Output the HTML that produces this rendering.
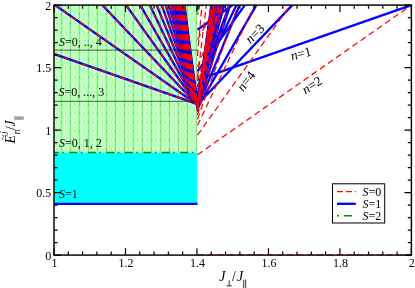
<!DOCTYPE html><html><head><meta charset="utf-8"><style>html,body{margin:0;padding:0;background:#fff}</style></head><body><svg width="415" height="288" viewBox="0 0 415 288" style="display:block;will-change:transform">
<defs>
<pattern id="gp" x="2.9" y="0.7" width="9" height="9" patternUnits="userSpaceOnUse"><rect width="9" height="9" fill="#bfffbf"/><line x1="4.5" y1="0" x2="4.5" y2="9" stroke="#74f274" stroke-width="1.1"/><line x1="0" y1="4.5" x2="9" y2="4.5" stroke="#86f486" stroke-width="1"/><line x1="0" y1="4.5" x2="9" y2="4.5" stroke="#ffffff" stroke-width="1.1" stroke-dasharray="2.4 2.1" stroke-dashoffset="-1"/><rect x="3.9" y="3.9" width="1.2" height="1.2" fill="#20e020"/></pattern>
<clipPath id="cp"><rect x="54.0" y="5.1" width="357.4" height="250.0"/></clipPath>
</defs>
<rect width="415" height="288" fill="#fff"/>
<rect x="54.0" y="5.1" width="143.50" height="147.50" fill="url(#gp)"/>
<rect x="54.0" y="152.60" width="143.50" height="51.25" fill="#00ffff"/>
<g clip-path="url(#cp)" fill="none">
<line x1="54.00" y1="53.91" x2="197.50" y2="104.10" stroke="#0000ff" stroke-width="2.3"/>
<line x1="55.07" y1="5.10" x2="197.50" y2="104.73" stroke="#0000ff" stroke-width="2.3"/>
<line x1="102.35" y1="5.10" x2="197.50" y2="104.93" stroke="#0000ff" stroke-width="2.3"/>
<line x1="126.06" y1="5.10" x2="197.50" y2="105.04" stroke="#0000ff" stroke-width="2.3"/>
<line x1="140.31" y1="5.10" x2="197.50" y2="105.10" stroke="#0000ff" stroke-width="2.3"/>
<line x1="149.82" y1="5.10" x2="197.50" y2="105.14" stroke="#0000ff" stroke-width="2.3"/>
<line x1="156.62" y1="5.10" x2="197.50" y2="105.17" stroke="#0000ff" stroke-width="2.3"/>
<line x1="161.72" y1="5.10" x2="197.50" y2="105.19" stroke="#0000ff" stroke-width="2.3"/>
<line x1="165.69" y1="5.10" x2="197.50" y2="105.21" stroke="#0000ff" stroke-width="2.3"/>
<line x1="168.87" y1="5.10" x2="197.50" y2="105.23" stroke="#0000ff" stroke-width="2.3"/>
<line x1="171.47" y1="5.10" x2="197.50" y2="105.24" stroke="#0000ff" stroke-width="2.3"/>
<line x1="173.63" y1="5.10" x2="197.50" y2="105.25" stroke="#0000ff" stroke-width="2.3"/>
<line x1="175.47" y1="5.10" x2="197.50" y2="105.25" stroke="#0000ff" stroke-width="2.3"/>
<line x1="177.04" y1="5.10" x2="197.50" y2="105.26" stroke="#0000ff" stroke-width="2.3"/>
<line x1="178.40" y1="5.10" x2="197.50" y2="105.27" stroke="#0000ff" stroke-width="2.3"/>
<line x1="179.60" y1="5.10" x2="197.50" y2="105.27" stroke="#0000ff" stroke-width="2.3"/>
<line x1="180.65" y1="5.10" x2="197.50" y2="105.28" stroke="#0000ff" stroke-width="2.3"/>
<line x1="181.58" y1="5.10" x2="197.50" y2="105.28" stroke="#0000ff" stroke-width="2.3"/>
<line x1="182.42" y1="5.10" x2="197.50" y2="105.28" stroke="#0000ff" stroke-width="2.3"/>
<line x1="183.17" y1="5.10" x2="197.50" y2="105.29" stroke="#0000ff" stroke-width="2.3"/>
<line x1="183.85" y1="5.10" x2="197.50" y2="105.29" stroke="#0000ff" stroke-width="2.3"/>
<line x1="184.47" y1="5.10" x2="197.50" y2="105.29" stroke="#0000ff" stroke-width="2.3"/>
<line x1="197.50" y1="79.91" x2="411.40" y2="5.10" stroke="#0000ff" stroke-width="2.3"/>
<line x1="197.50" y1="29.73" x2="232.70" y2="5.10" stroke="#0000ff" stroke-width="2.3"/>
<line x1="197.50" y1="104.54" x2="292.27" y2="5.10" stroke="#0000ff" stroke-width="2.3"/>
<line x1="197.50" y1="71.42" x2="244.90" y2="5.10" stroke="#0000ff" stroke-width="2.3"/>
<line x1="197.50" y1="107.94" x2="256.30" y2="5.10" stroke="#0000ff" stroke-width="2.3"/>
<line x1="197.50" y1="86.79" x2="236.42" y2="5.10" stroke="#0000ff" stroke-width="2.3"/>
<line x1="197.50" y1="108.10" x2="239.57" y2="5.10" stroke="#0000ff" stroke-width="2.3"/>
<line x1="197.50" y1="93.94" x2="229.25" y2="5.10" stroke="#0000ff" stroke-width="2.3"/>
<line x1="197.50" y1="107.53" x2="230.04" y2="5.10" stroke="#0000ff" stroke-width="2.3"/>
<line x1="197.50" y1="97.75" x2="223.99" y2="5.10" stroke="#0000ff" stroke-width="2.3"/>
<line x1="197.50" y1="106.83" x2="223.94" y2="5.10" stroke="#0000ff" stroke-width="2.3"/>
<line x1="197.50" y1="99.96" x2="220.10" y2="5.10" stroke="#0000ff" stroke-width="2.3"/>
<line x1="197.50" y1="111.05" x2="220.80" y2="5.10" stroke="#0000ff" stroke-width="2.3"/>
<line x1="197.50" y1="101.65" x2="217.21" y2="5.10" stroke="#0000ff" stroke-width="2.3"/>
<line x1="197.50" y1="109.56" x2="217.41" y2="5.10" stroke="#0000ff" stroke-width="2.3"/>
<line x1="197.50" y1="102.90" x2="214.97" y2="5.10" stroke="#0000ff" stroke-width="2.3"/>
<line x1="197.50" y1="108.50" x2="214.89" y2="5.10" stroke="#0000ff" stroke-width="2.3"/>
<line x1="197.50" y1="103.78" x2="213.17" y2="5.10" stroke="#0000ff" stroke-width="2.3"/>
<line x1="197.50" y1="107.75" x2="212.94" y2="5.10" stroke="#0000ff" stroke-width="2.3"/>
<line x1="197.50" y1="104.41" x2="211.69" y2="5.10" stroke="#0000ff" stroke-width="2.3"/>
<line x1="197.50" y1="107.22" x2="211.40" y2="5.10" stroke="#0000ff" stroke-width="2.3"/>
<line x1="197.50" y1="9.50" x2="198.70" y2="5.10" stroke="#0000ff" stroke-width="2.3"/>
<line x1="54.00" y1="203.85" x2="197.50" y2="203.85" stroke="#0000ff" stroke-width="2.3"/>
<line x1="54.00" y1="53.91" x2="197.50" y2="104.10" stroke="#ff0000" stroke-width="1.25" stroke-dasharray="6.2 3.75"/>
<line x1="55.07" y1="5.10" x2="197.50" y2="104.73" stroke="#ff0000" stroke-width="1.25" stroke-dasharray="6.2 3.75"/>
<line x1="102.35" y1="5.10" x2="197.50" y2="104.93" stroke="#ff0000" stroke-width="1.25" stroke-dasharray="6.2 3.75"/>
<line x1="126.06" y1="5.10" x2="197.50" y2="105.04" stroke="#ff0000" stroke-width="1.25" stroke-dasharray="6.2 3.75"/>
<line x1="140.31" y1="5.10" x2="197.50" y2="105.10" stroke="#ff0000" stroke-width="1.25" stroke-dasharray="6.2 3.75"/>
<line x1="149.82" y1="5.10" x2="197.50" y2="105.14" stroke="#ff0000" stroke-width="1.25" stroke-dasharray="6.2 3.75"/>
<line x1="156.62" y1="5.10" x2="197.50" y2="105.17" stroke="#ff0000" stroke-width="1.25" stroke-dasharray="6.2 3.75"/>
<line x1="161.72" y1="5.10" x2="197.50" y2="105.19" stroke="#ff0000" stroke-width="1.25" stroke-dasharray="6.2 3.75"/>
<line x1="165.69" y1="5.10" x2="197.50" y2="105.21" stroke="#ff0000" stroke-width="1.25" stroke-dasharray="6.2 3.75"/>
<line x1="168.87" y1="5.10" x2="197.50" y2="105.23" stroke="#ff0000" stroke-width="1.25" stroke-dasharray="6.2 3.75"/>
<line x1="171.47" y1="5.10" x2="197.50" y2="105.24" stroke="#ff0000" stroke-width="1.25" stroke-dasharray="6.2 3.75"/>
<line x1="173.63" y1="5.10" x2="197.50" y2="105.25" stroke="#ff0000" stroke-width="1.25" stroke-dasharray="6.2 3.75"/>
<line x1="175.47" y1="5.10" x2="197.50" y2="105.25" stroke="#ff0000" stroke-width="1.25" stroke-dasharray="6.2 3.75"/>
<line x1="177.04" y1="5.10" x2="197.50" y2="105.26" stroke="#ff0000" stroke-width="1.25" stroke-dasharray="6.2 3.75"/>
<line x1="178.40" y1="5.10" x2="197.50" y2="105.27" stroke="#ff0000" stroke-width="1.25" stroke-dasharray="6.2 3.75"/>
<line x1="179.60" y1="5.10" x2="197.50" y2="105.27" stroke="#ff0000" stroke-width="1.25" stroke-dasharray="6.2 3.75"/>
<line x1="180.65" y1="5.10" x2="197.50" y2="105.28" stroke="#ff0000" stroke-width="1.25" stroke-dasharray="6.2 3.75"/>
<line x1="181.58" y1="5.10" x2="197.50" y2="105.28" stroke="#ff0000" stroke-width="1.25" stroke-dasharray="6.2 3.75"/>
<line x1="182.42" y1="5.10" x2="197.50" y2="105.28" stroke="#ff0000" stroke-width="1.25" stroke-dasharray="6.2 3.75"/>
<line x1="183.17" y1="5.10" x2="197.50" y2="105.29" stroke="#ff0000" stroke-width="1.25" stroke-dasharray="6.2 3.75"/>
<line x1="183.85" y1="5.10" x2="197.50" y2="105.29" stroke="#ff0000" stroke-width="1.25" stroke-dasharray="6.2 3.75"/>
<line x1="184.47" y1="5.10" x2="197.50" y2="105.29" stroke="#ff0000" stroke-width="1.25" stroke-dasharray="6.2 3.75"/>
<line x1="197.50" y1="154.72" x2="411.40" y2="5.10" stroke="#ff0000" stroke-width="1.25" stroke-dasharray="6.2 3.75"/>
<line x1="197.50" y1="135.07" x2="290.40" y2="5.10" stroke="#ff0000" stroke-width="1.25" stroke-dasharray="6.2 3.75"/>
<line x1="197.50" y1="39.61" x2="217.23" y2="5.10" stroke="#ff0000" stroke-width="1.25" stroke-dasharray="6.2 3.75"/>
<line x1="197.50" y1="125.26" x2="254.76" y2="5.10" stroke="#ff0000" stroke-width="1.25" stroke-dasharray="6.2 3.75"/>
<line x1="197.50" y1="66.73" x2="222.67" y2="5.10" stroke="#ff0000" stroke-width="1.25" stroke-dasharray="6.2 3.75"/>
<line x1="197.50" y1="119.18" x2="238.27" y2="5.10" stroke="#ff0000" stroke-width="1.25" stroke-dasharray="6.2 3.75"/>
<line x1="197.50" y1="80.94" x2="221.59" y2="5.10" stroke="#ff0000" stroke-width="1.25" stroke-dasharray="6.2 3.75"/>
<line x1="197.50" y1="115.05" x2="228.93" y2="5.10" stroke="#ff0000" stroke-width="1.25" stroke-dasharray="6.2 3.75"/>
<line x1="197.50" y1="89.11" x2="219.33" y2="5.10" stroke="#ff0000" stroke-width="1.25" stroke-dasharray="6.2 3.75"/>
<line x1="197.50" y1="112.10" x2="222.99" y2="5.10" stroke="#ff0000" stroke-width="1.25" stroke-dasharray="6.2 3.75"/>
<line x1="197.50" y1="100.85" x2="218.55" y2="5.10" stroke="#ff0000" stroke-width="1.25" stroke-dasharray="6.2 3.75"/>
<line x1="197.50" y1="110.24" x2="218.97" y2="5.10" stroke="#ff0000" stroke-width="1.25" stroke-dasharray="6.2 3.75"/>
<line x1="197.50" y1="102.33" x2="216.03" y2="5.10" stroke="#ff0000" stroke-width="1.25" stroke-dasharray="6.2 3.75"/>
<line x1="197.50" y1="108.98" x2="216.06" y2="5.10" stroke="#ff0000" stroke-width="1.25" stroke-dasharray="6.2 3.75"/>
<line x1="197.50" y1="103.38" x2="214.03" y2="5.10" stroke="#ff0000" stroke-width="1.25" stroke-dasharray="6.2 3.75"/>
<line x1="197.50" y1="108.09" x2="213.86" y2="5.10" stroke="#ff0000" stroke-width="1.25" stroke-dasharray="6.2 3.75"/>
<line x1="197.50" y1="104.12" x2="212.40" y2="5.10" stroke="#ff0000" stroke-width="1.25" stroke-dasharray="6.2 3.75"/>
<line x1="197.50" y1="107.46" x2="212.13" y2="5.10" stroke="#ff0000" stroke-width="1.25" stroke-dasharray="6.2 3.75"/>
<line x1="197.50" y1="104.65" x2="211.05" y2="5.10" stroke="#ff0000" stroke-width="1.25" stroke-dasharray="6.2 3.75"/>
<line x1="197.50" y1="56.00" x2="201.90" y2="5.10" stroke="#ff0000" stroke-width="1.25" stroke-dasharray="6.2 3.75"/>
<line x1="197.50" y1="77.70" x2="206.40" y2="5.10" stroke="#ff0000" stroke-width="1.25" stroke-dasharray="6.2 3.75"/>
<line x1="197.50" y1="254.85" x2="411.40" y2="254.85" stroke="#ff0000" stroke-width="1.25" stroke-dasharray="6.2 3.75"/>
<line x1="197.60" y1="14.50" x2="199.60" y2="5.10" stroke="#008b00" stroke-width="1.5" stroke-dasharray="2 2.5 8 4.5"/>
<line x1="54.0" y1="101.35" x2="197.50" y2="101.35" stroke="#1a1a1a" stroke-width="0.7"/>
<line x1="54.0" y1="50.10" x2="197.50" y2="50.10" stroke="#1a1a1a" stroke-width="0.7"/>
<line x1="54.0" y1="152.40" x2="197.50" y2="152.40" stroke="#008b00" stroke-width="1.5" stroke-dasharray="8 3.5 1.5 5.5" stroke-dashoffset="3.2"/>
</g>
<rect x="54.0" y="5.1" width="357.4" height="250.0" fill="none" stroke="#000" stroke-width="1.45"/>
<path d="M54.00 255.1v-6.9M54.00 5.1v6.9M68.30 255.1v-3.6M68.30 5.1v3.6M82.59 255.1v-3.6M82.59 5.1v3.6M96.89 255.1v-3.6M96.89 5.1v3.6M111.18 255.1v-3.6M111.18 5.1v3.6M125.48 255.1v-6.9M125.48 5.1v6.9M139.78 255.1v-3.6M139.78 5.1v3.6M154.07 255.1v-3.6M154.07 5.1v3.6M168.37 255.1v-3.6M168.37 5.1v3.6M182.66 255.1v-3.6M182.66 5.1v3.6M196.96 255.1v-6.9M196.96 5.1v6.9M211.26 255.1v-3.6M211.26 5.1v3.6M225.55 255.1v-3.6M225.55 5.1v3.6M239.85 255.1v-3.6M239.85 5.1v3.6M254.14 255.1v-3.6M254.14 5.1v3.6M268.44 255.1v-6.9M268.44 5.1v6.9M282.74 255.1v-3.6M282.74 5.1v3.6M297.03 255.1v-3.6M297.03 5.1v3.6M311.33 255.1v-3.6M311.33 5.1v3.6M325.62 255.1v-3.6M325.62 5.1v3.6M339.92 255.1v-6.9M339.92 5.1v6.9M354.22 255.1v-3.6M354.22 5.1v3.6M368.51 255.1v-3.6M368.51 5.1v3.6M382.81 255.1v-3.6M382.81 5.1v3.6M397.10 255.1v-3.6M397.10 5.1v3.6M411.40 255.1v-6.9M411.40 5.1v6.9M54.0 255.10h6.9M411.4 255.10h-6.9M54.0 242.60h3.6M411.4 242.60h-3.6M54.0 230.10h3.6M411.4 230.10h-3.6M54.0 217.60h3.6M411.4 217.60h-3.6M54.0 205.10h3.6M411.4 205.10h-3.6M54.0 192.60h6.9M411.4 192.60h-6.9M54.0 180.10h3.6M411.4 180.10h-3.6M54.0 167.60h3.6M411.4 167.60h-3.6M54.0 155.10h3.6M411.4 155.10h-3.6M54.0 142.60h3.6M411.4 142.60h-3.6M54.0 130.10h6.9M411.4 130.10h-6.9M54.0 117.60h3.6M411.4 117.60h-3.6M54.0 105.10h3.6M411.4 105.10h-3.6M54.0 92.60h3.6M411.4 92.60h-3.6M54.0 80.10h3.6M411.4 80.10h-3.6M54.0 67.60h6.9M411.4 67.60h-6.9M54.0 55.10h3.6M411.4 55.10h-3.6M54.0 42.60h3.6M411.4 42.60h-3.6M54.0 30.10h3.6M411.4 30.10h-3.6M54.0 17.60h3.6M411.4 17.60h-3.6M54.0 5.10h6.9M411.4 5.10h-6.9" stroke="#000" stroke-width="1.2" fill="none"/>
<g font-family="Liberation Serif, serif" font-size="12px" fill="#000">
<text x="54.6" y="266.8" text-anchor="middle">1</text>
<text x="126.1" y="266.8" text-anchor="middle">1.2</text>
<text x="197.6" y="266.8" text-anchor="middle">1.4</text>
<text x="269.0" y="266.8" text-anchor="middle">1.6</text>
<text x="340.5" y="266.8" text-anchor="middle">1.8</text>
<text x="411.7" y="266.8" text-anchor="middle">2</text>
<text x="51.2" y="259.6" text-anchor="end">0</text>
<text x="51.2" y="197.1" text-anchor="end">0.5</text>
<text x="51.2" y="134.6" text-anchor="end">1</text>
<text x="51.2" y="72.1" text-anchor="end">1.5</text>
<text x="51.2" y="9.6" text-anchor="end">2</text>
<text x="59" y="45.6"><tspan font-style="italic">S</tspan>=0, .., 4</text>
<text x="58.5" y="95.6"><tspan font-style="italic">S</tspan>=0, ..., 3</text>
<text x="59" y="146.9"><tspan font-style="italic">S</tspan>=0, 1, 2</text>
<text x="59" y="198.3"><tspan font-style="italic">S</tspan>=1</text>
</g>
<g font-family="Liberation Serif, serif" font-size="13.4px" fill="#000">
<text transform="translate(250.6,44.2) rotate(-45)"><tspan font-style="italic">n</tspan>=3</text>
<text transform="translate(292,60.6) rotate(-15)"><tspan font-style="italic">n</tspan>=1</text>
<text transform="translate(243.3,92.2) rotate(-53)"><tspan font-style="italic">n</tspan>=4</text>
<text transform="translate(305.6,94.5) rotate(-33)"><tspan font-style="italic">n</tspan>=2</text>
</g>
<rect x="332.5" y="183.8" width="52.2" height="39.2" fill="#fff" stroke="#000" stroke-width="1"/>
<line x1="337" y1="191.7" x2="355.8" y2="191.7" stroke="#ff0000" stroke-width="1.25" stroke-dasharray="6 2.9"/>
<line x1="337" y1="203.8" x2="355.8" y2="203.8" stroke="#0000ff" stroke-width="2.3"/>
<line x1="337" y1="215.7" x2="355.8" y2="215.7" stroke="#008b00" stroke-width="1.5" stroke-dasharray="2 4.8 8 4.5"/>
<g font-family="Liberation Serif, serif" font-size="12px" fill="#000">
<text x="362.5" y="195.8"><tspan font-style="italic">S</tspan>=0</text>
<text x="362.5" y="207.8"><tspan font-style="italic">S</tspan>=1</text>
<text x="362.5" y="219.8"><tspan font-style="italic">S</tspan>=2</text>
</g>
<g font-family="Liberation Serif, serif" font-size="13.8px" fill="#000" font-style="italic">
<text x="219.3" y="280.6">J</text><text x="237" y="280.6">J</text>
<text x="232" y="280.6" font-style="normal">/</text>
<path d="M226.6 285.9h5.2M229.2 285.9v-5.4M243.7 279.6v8.4M245.7 279.6v8.4" stroke="#000" stroke-width="0.8" fill="none"/>
<g transform="translate(15.4,143.6) rotate(-90)"><text x="0" y="0">E</text><text x="9.3" y="5" font-size="9.5px">n</text><text x="9.8" y="-9.4" font-size="9px">j</text><text x="13.6" y="0" font-style="normal">/</text><text x="17" y="0">J</text><text x="3" y="-9.5" font-style="normal" font-size="11px">~</text></g>
<rect x="14.2" y="116.3" width="9.6" height="3.5" fill="#a2a2a2"/>
</g>
</svg></body></html>
